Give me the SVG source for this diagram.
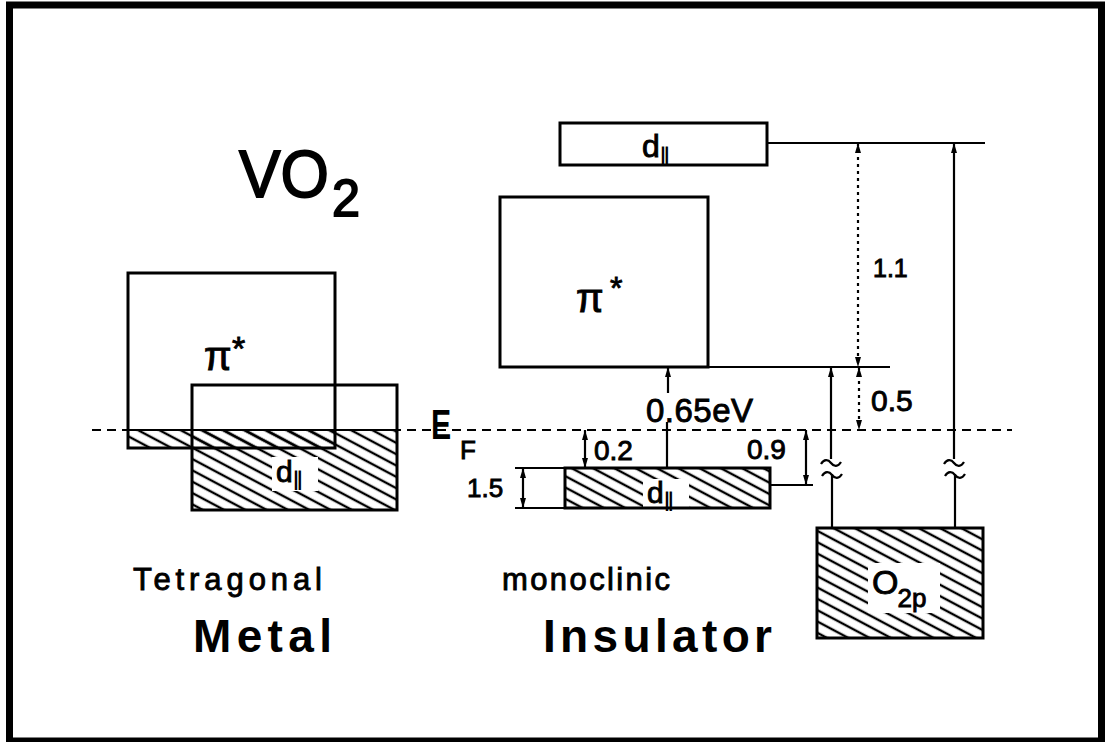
<svg xmlns="http://www.w3.org/2000/svg" width="1105" height="742" viewBox="0 0 1105 742">
<style>
.t{font-family:"Liberation Sans",Arial,sans-serif;fill:#000}
.th{stroke:#000;stroke-width:0.9px}
.thk{stroke:#000;stroke-width:1.8px}
.par{font-family:"DejaVu Sans",sans-serif;stroke-width:0;font-weight:bold}
.clear{fill:#fff;stroke:none}
.box{fill:none;stroke:#000;stroke-width:3}
.ln{fill:none;stroke:#000;stroke-width:2.2}
.dot{fill:none;stroke:#000;stroke-width:2.2;stroke-dasharray:3 4}
.ef{fill:none;stroke:#000;stroke-width:2;stroke-dasharray:9 6}
.hatch{fill:url(#hatch);stroke:none}
</style>
<defs>
<pattern id="hatch" patternUnits="userSpaceOnUse" width="20" height="10" patternTransform="rotate(28)">
<line x1="0" y1="5" x2="20" y2="5" stroke="#000" stroke-width="2.4"/>
</pattern>
<marker id="ah" viewBox="0 0 10 6" refX="10" refY="3" markerWidth="10" markerHeight="6" markerUnits="userSpaceOnUse" orient="auto-start-reverse">
<path d="M0,0 L10,3 L0,6 z" fill="#000"/>
</marker>
</defs>
<rect x="9.5" y="5" width="1092" height="736" fill="#fff" stroke="#000" stroke-width="7"/>

<g id="title">
<text class="t thk" x="239" y="197" font-size="66" textLength="90" lengthAdjust="spacingAndGlyphs">VO</text>
<text class="t thk" x="332" y="216" font-size="52" textLength="28" lengthAdjust="spacingAndGlyphs">2</text>
</g>

<g id="fermi-level">
<line class="ef" x1="92" y1="430" x2="1012" y2="430"/>
<line class="ln" x1="128" y1="430" x2="397" y2="430"/>
<text class="t" x="431" y="439" font-size="42" font-weight="bold" transform="translate(431 0) scale(0.72 1) translate(-431 0)">E</text>
<text class="t th" x="460" y="459" font-size="26">F</text>
</g>

<g id="metal-pi">
<rect class="hatch" x="128" y="430" width="207" height="18"/>
<rect class="box" x="128" y="273" width="207" height="175"/>
<text class="t th" x="204" y="370" font-size="40">π</text>
<text class="t th" x="232" y="360" font-size="34">*</text>
</g>

<g id="metal-d">
<rect class="hatch" x="192" y="430" width="205" height="80"/>
<rect class="clear" x="272" y="457" width="46" height="34"/>
<rect class="box" x="192" y="385" width="205" height="125"/>
<line class="ln" x1="192" y1="448" x2="335" y2="448"/>
<text class="t th" x="276" y="482" font-size="30">d<tspan class="par" font-size="20" dy="4" dx="0">∥</tspan></text>
</g>

<g id="metal-labels">
<text class="t th" x="133" y="590" font-size="31" textLength="189" lengthAdjust="spacing">Tetragonal</text>
<text class="t" x="193" y="652" font-size="46" font-weight="bold" textLength="139" lengthAdjust="spacing">Metal</text>
</g>

<g id="ins-d-upper">
<rect class="box" x="560" y="123" width="207" height="42"/>
<text class="t th" x="642" y="157" font-size="32">d<tspan class="par" font-size="20" dy="5" dx="0">∥</tspan></text>
</g>

<g id="ins-pi">
<rect class="box" x="500" y="197" width="208" height="170"/>
<text class="t th" x="576" y="312" font-size="40">π</text>
<text class="t th" x="610" y="299" font-size="32">*</text>
</g>

<g id="ins-d-lower">
<rect class="hatch" x="565" y="468" width="205" height="40"/>
<rect class="clear" x="643" y="479" width="46" height="28"/>
<rect class="box" x="565" y="468" width="205" height="40"/>
<text class="t th" x="647" y="503" font-size="30">d<tspan class="par" font-size="20" dy="4" dx="0">∥</tspan></text>
</g>

<g id="o2p">
<rect class="hatch" x="817" y="528" width="166" height="110"/>
<rect class="clear" x="868" y="563" width="72" height="50"/>
<rect class="box" x="817" y="528" width="166" height="110" stroke-width="4"/>
<text class="t th" x="872" y="594" font-size="34">O<tspan font-size="26" dy="13" dx="-1">2p</tspan></text>
</g>

<g id="ins-labels">
<text class="t th" x="502" y="590" font-size="31" textLength="168" lengthAdjust="spacing">monoclinic</text>
<text class="t" x="543" y="652" font-size="46" font-weight="bold" textLength="229" lengthAdjust="spacing">Insulator</text>
</g>

<g id="connectors">
<line class="ln" x1="767" y1="143" x2="985" y2="143"/>
<line class="ln" x1="708" y1="367" x2="890" y2="367"/>
<line class="ln" x1="770" y1="485" x2="813" y2="485"/>
<line class="ln" x1="515" y1="468" x2="565" y2="468"/>
<line class="ln" x1="515" y1="508" x2="565" y2="508"/>

<line class="dot" x1="858" y1="143" x2="858" y2="367" marker-start="url(#ah)" marker-end="url(#ah)"/>
<line class="dot" x1="859" y1="367" x2="859" y2="430" marker-start="url(#ah)" marker-end="url(#ah)"/>

<line class="ln" x1="954" y1="143" x2="954" y2="459" marker-start="url(#ah)"/>
<line class="ln" x1="955" y1="474" x2="955" y2="528"/>
<path class="ln" d="M944,464 c3,-5 7,-5 10,-1 s7,4 10,-1"/>
<path class="ln" d="M945,476 c3,-5 7,-5 10,-1 s7,4 10,-1"/>

<line class="ln" x1="831" y1="367" x2="831" y2="459" marker-start="url(#ah)"/>
<line class="ln" x1="832" y1="474" x2="832" y2="528"/>
<path class="ln" d="M821,464 c3,-5 7,-5 10,-1 s7,4 10,-1"/>
<path class="ln" d="M822,476 c3,-5 7,-5 10,-1 s7,4 10,-1"/>

<line class="ln" x1="668" y1="393" x2="668" y2="367" marker-end="url(#ah)"/>
<line class="ln" x1="667" y1="422" x2="667" y2="468"/>
<line class="ln" x1="585" y1="430" x2="585" y2="468" marker-start="url(#ah)" marker-end="url(#ah)"/>
<line class="ln" x1="806" y1="430" x2="806" y2="485" marker-start="url(#ah)" marker-end="url(#ah)"/>
<line class="ln" x1="523" y1="468" x2="523" y2="508" marker-start="url(#ah)" marker-end="url(#ah)"/>
</g>

<g id="values">
<text class="t th" x="873" y="277" font-size="25">1.1</text>
<text class="t th" x="871" y="411" font-size="30">0.5</text>
<text class="t th" x="646" y="422" font-size="33" textLength="107" lengthAdjust="spacing">0.65eV</text>
<text class="t th" x="594" y="460" font-size="28">0.2</text>
<text class="t th" x="747" y="459" font-size="28">0.9</text>
<text class="t th" x="467" y="497" font-size="26">1.5</text>
</g>
</svg>
